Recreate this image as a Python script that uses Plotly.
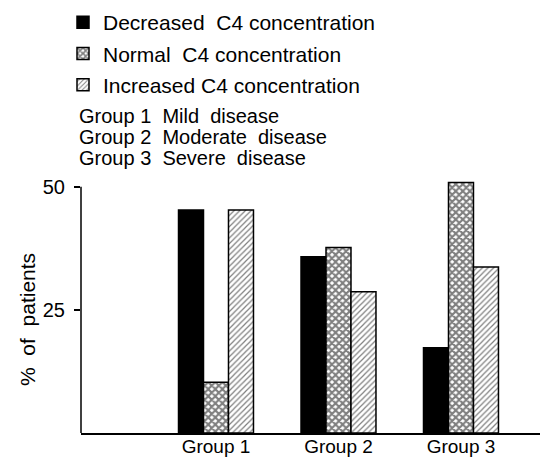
import plotly.graph_objects as go

groups = ["Group 1", "Group 2", "Group 3"]
group_pos = [1, 2, 3]
decreased = [45.3, 35.8, 17.3]
normal = [10.3, 37.7, 50.9]
increased = [45.3, 28.7, 33.7]
series_names = ["Decreased\u00a0 C4 concentration", "Normal\u00a0 C4 concentration", "Increased C4 concentration"]
notes = ["Group 1\u00a0 Mild\u00a0 disease", "Group 2\u00a0 Moderate\u00a0 disease", "Group 3\u00a0 Severe\u00a0 disease"]
y_title = "%\u00a0 of\u00a0 patients"

FONT = "Liberation Sans"

fig = go.Figure()
fig.add_trace(go.Bar(x=group_pos, y=decreased, name=series_names[0], legendgroup="a",
                     marker=dict(color="black", line=dict(color="black", width=1.5))))
fig.add_trace(go.Bar(x=group_pos, y=normal, name=series_names[1], legendgroup="b",
                     marker=dict(color="white", line=dict(color="black", width=1.5),
                                 pattern=dict(shape="x", size=5, solidity=0.65, fgcolor="black", bgcolor="white"))))
fig.add_trace(go.Bar(x=group_pos, y=increased, name=series_names[2], legendgroup="c",
                     marker=dict(color="white", line=dict(color="black", width=1.5),
                                 pattern=dict(shape="/", size=4, solidity=0.3, fgcolor="black", bgcolor="white"))))

for i, t in enumerate(notes):
    fig.add_annotation(text=t, xref="paper", yref="paper", x=-4 / 459, y=(433 - (116 + 21 * i)) / 256,
                       xanchor="left", yanchor="middle", showarrow=False,
                       font=dict(family=FONT, size=20, color="black"))

# y axis title as rotated text
fig.add_annotation(text=y_title, xref="paper", yref="paper", x=(27 - 81) / 459, y=(433 - 320) / 256,
                   xanchor="center", yanchor="middle", textangle=-90, showarrow=False,
                   font=dict(family=FONT, size=21, color="black"))

# y axis line from 0 to 50
fig.add_shape(type="line", xref="paper", yref="y", x0=0, x1=0, y0=0, y1=50,
              line=dict(color="black", width=1.5))

fig.update_layout(
    width=540, height=458,
    margin=dict(l=81, r=0, t=177, b=25, autoexpand=False),
    paper_bgcolor="white", plot_bgcolor="white",
    barmode="group", bargap=0.388, bargroupgap=0,
    font=dict(family=FONT, color="black"),
    showlegend=True,
    legend=dict(x=-18 / 459, y=(433 - 2) / 256, xanchor="left", yanchor="top",
                font=dict(family=FONT, size=21, color="black"),
                tracegroupgap=1, bgcolor="rgba(0,0,0,0)"),
    xaxis=dict(range=[-0.102, 3.645], tickvals=group_pos, ticktext=groups, automargin=False,
               showline=True, linecolor="black", linewidth=1.5, showgrid=False,
               zeroline=False, ticks="", ticklabelstandoff=-5, tickfont=dict(size=19, family=FONT)),
    yaxis=dict(range=[0, 52], tickvals=[25, 50], ticktext=["25", "50"], automargin=False,
               showline=False, showgrid=False, zeroline=False,
               ticks="outside", ticklen=6, tickwidth=1.5, tickcolor="black",
               ticklabelstandoff=5, tickfont=dict(size=20, family=FONT)),
)

fig.write_html("out.html", config={"displayModeBar": False},
               post_script="document.body.style.margin='0';document.body.style.overflow='hidden';")
